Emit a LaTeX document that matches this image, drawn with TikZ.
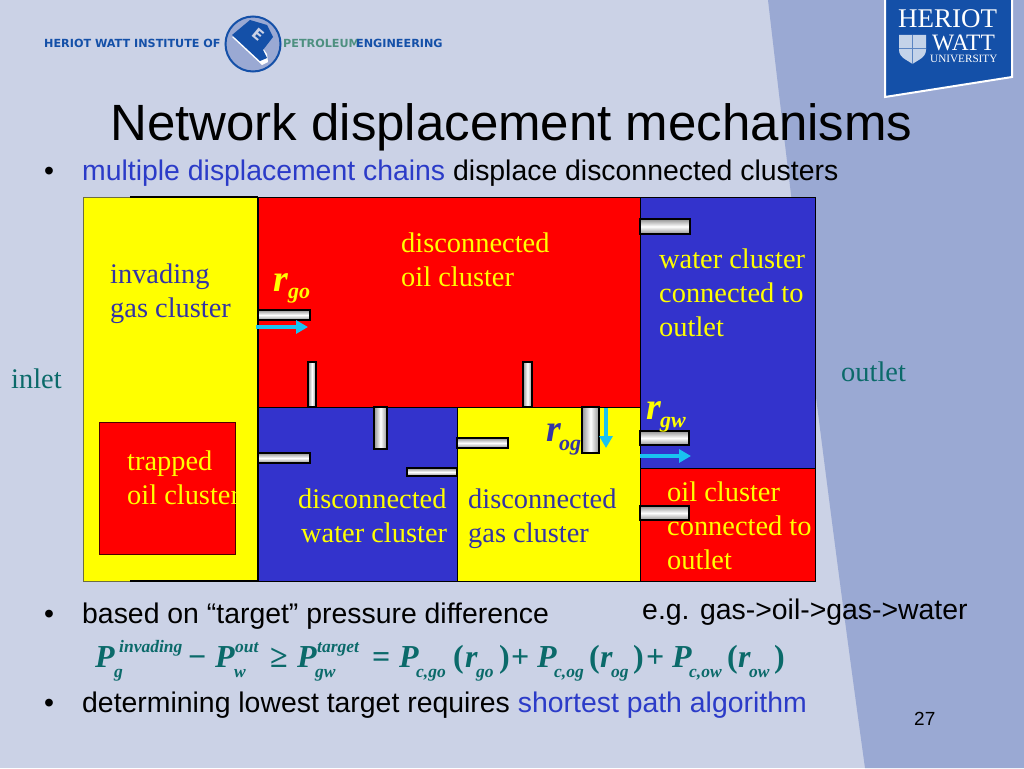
\documentclass[tikz,border=0pt]{standalone}
\usepackage{fontspec}
\setmainfont{Liberation Serif}
\newfontfamily\arial{Liberation Sans}
\newfontfamily\logofont{DejaVu Sans}
\definecolor{bgl}{HTML}{CBD2E6}
\definecolor{bgd}{HTML}{9AA9D3}
\definecolor{hwblue}{HTML}{1450A8}
\definecolor{cellblue}{HTML}{3333CC}
\definecolor{tealt}{HTML}{0B6A6A}
\definecolor{linkb}{HTML}{2B3BC8}
\definecolor{labelb}{HTML}{3333A6}
\definecolor{arrowc}{HTML}{19C3F0}
\definecolor{yel}{HTML}{FFFF00}
\definecolor{logog}{HTML}{4E9080}
\definecolor{edgeg}{HTML}{6E6E40}
\usetikzlibrary{arrows.meta}
\tikzset{
 cell/.style={draw=black,line width=1pt},
 hpore/.style={draw=black,line width=1.3pt,top color=gray!85,bottom color=gray!85,middle color=white},
 vpore/.style={draw=black,line width=1.3pt,left color=gray!85,right color=gray!85,middle color=white},
 flow/.style={draw=arrowc,line width=3.6pt,-{Triangle[length=12pt,width=13pt]}},
 lbl/.style={anchor=base west,inner sep=0,font=\fontsize{28.4}{30}\selectfont,align=left},
 body/.style={anchor=base west,inner sep=0,font=\arial\fontsize{28.4}{30}\selectfont},
 eqm/.style={anchor=base west,inner sep=0,text=tealt,font=\bfseries\itshape\fontsize{32}{32}\selectfont},
 eqs/.style={anchor=base west,inner sep=0,text=tealt,font=\bfseries\itshape\fontsize{17.5}{18}\selectfont},
 rm/.style={anchor=base west,inner sep=0,font=\bfseries\itshape\fontsize{38}{38}\selectfont},
 rs/.style={anchor=base west,inner sep=0,font=\bfseries\itshape\fontsize{22}{22}\selectfont},
 logot/.style={anchor=base west,inner sep=0,font=\logofont\bfseries\fontsize{11.2}{12}\selectfont},
}
\begin{document}
\begin{tikzpicture}[x=1pt,y=-1pt]
\useasboundingbox (0,0) rectangle (1024,768);
% background
\fill[bgl] (0,0) rectangle (1024,768);
\fill[bgd] (768,0) .. controls (790,190) and (825,480) .. (865,768) -- (1024,768) -- (1024,0) -- cycle;
% institute logo
\node[logot,text=hwblue] (inst) at (44,48) {HERIOT WATT INSTITUTE OF};
\draw[hwblue,line width=2pt,fill=bgd] (253,44) circle (27.5);
\fill[white] (232,37) -- (262,65) -- (268,62) -- (267,54) -- (250,30) -- cycle;
\fill[hwblue] (232,35) -- (250,20) -- (267,25) -- (273,37) -- (263,50) -- (267,58) -- (260,61) -- cycle;
\node[inner sep=0,rotate=-40,text=bgl,font=\logofont\bfseries\fontsize{15}{15}\selectfont] (elogo) at (258,35) {E};
\node[logot,text=logog] (pet) at (283,48) {PETROLEUM};
\node[logot,text=hwblue] (eng) at (356,48) {ENGINEERING};
% university badge
\draw[white,line width=2pt,fill=hwblue] (885,-2) -- (1012,-2) -- (1012,77) -- (885,97) -- cycle;
\node[anchor=base west,inner sep=0,text=white,font=\fontsize{27}{27}\selectfont] (hw1) at (898,28) {HERIOT};
\node[anchor=base west,inner sep=0,text=white,font=\fontsize{23.5}{24}\selectfont] (hw2) at (932,51) {WATT};
\node[anchor=base west,inner sep=0,text=white,font=\fontsize{11.2}{12}\selectfont] (hw3) at (930,63) {UNIVERSITY};
\fill[white!75!hwblue] (899,35) -- (926,35) -- (926,50) .. controls (926,58) and (916,61) .. (912.5,64) .. controls (909,61) and (899,58) .. (899,50) -- cycle;
\draw[hwblue!70,line width=.7pt] (912.5,35) -- (912.5,64) (899,48) -- (926,48);
% title
\node[anchor=base west,inner sep=0,font=\arial\fontsize{51}{53}\selectfont] (title) at (110,140) {Network displacement mechanisms};
% bullets
\node[body] (b1) at (44,180) {•};
\node[body] (t1) at (82,180) {\textcolor{linkb}{multiple displacement chains} displace disconnected clusters};
\node[body] (b2) at (44,623) {•};
\node[body] (t2) at (82,623) {based on “target” pressure difference};
\node[body] (eg) at (642,619) {e.g. gas->oil->gas->water};
\node[body] (b3) at (44,712) {•};
\node[body] (t3) at (82,712) {determining lowest target requires \textcolor{linkb}{shortest path algorithm}};
\node[anchor=base west,inner sep=0,font=\arial\fontsize{19}{20}\selectfont] (pg) at (914,725) {27};
% cells
\filldraw[draw=edgeg,line width=1pt,fill=yel] (83,197) rectangle (258,581);
\draw[black,line width=1.2pt] (130,197) -- (258,197) (130,581) -- (258,581) (258,197) -- (258,581);
\filldraw[cell,fill=red] (258,197) rectangle (640,407);
\filldraw[cell,fill=cellblue] (640,197) rectangle (815,468);
\filldraw[cell,fill=red] (640,468) rectangle (815,581);
\filldraw[cell,fill=cellblue] (258,407) rectangle (457,581);
\filldraw[cell,fill=yel] (457,407) rectangle (640,581);
\filldraw[draw=black!70!red,line width=1pt,fill=red] (99,422) rectangle (235,554);
% pores
\shade[hpore] (640,219) rectangle (690,234);
\shade[hpore] (258,310) rectangle (310,320);
\shade[vpore] (308,362) rectangle (316,407);
\shade[vpore] (523,362) rectangle (532,407);
\shade[vpore] (374,407) rectangle (387,449);
\shade[hpore] (258,453) rectangle (310,463);
\shade[hpore] (407,468) rectangle (457,476);
\shade[hpore] (457,438) rectangle (508,448);
\shade[vpore] (582,407) rectangle (599,453);
\shade[hpore] (640,431) rectangle (689,445);
\shade[hpore] (640,506) rectangle (689,520);
% flow arrows
\draw[flow] (256,327) -- (308,327);
\draw[flow] (606,408) -- (606,448);
\draw[flow] (640,456) -- (691,456);
% cell labels
\node[lbl,text=yel] (a1) at (401,252) {disconnected};
\node[lbl,text=yel] (a2) at (401,286) {oil cluster};
\node[lbl,text=labelb] (c1) at (110,283) {invading};
\node[lbl,text=labelb] (c2) at (110,317) {gas cluster};
\node[lbl,text=yel] (d1) at (659,268) {water cluster};
\node[lbl,text=yel] (d2) at (659,302) {connected to};
\node[lbl,text=yel] (d3) at (659,336) {outlet};
\node[lbl,text=yel] (e1) at (127,470) {trapped};
\node[lbl,text=yel] (e2) at (127,504) {oil cluster};
\node[lbl,text=yel] (f1) at (298,508) {disconnected};
\node[lbl,text=yel] (f2) at (301,542) {water cluster};
\node[lbl,text=labelb] (g1) at (468,508) {disconnected};
\node[lbl,text=labelb] (g2) at (468,542) {gas cluster};
\node[lbl,text=yel] (h1) at (667,501) {oil cluster};
\node[lbl,text=yel] (h2) at (667,535) {connected to};
\node[lbl,text=yel] (h3) at (667,569) {outlet};
\node[lbl,text=tealt] (inlet) at (11,388) {inlet};
\node[lbl,text=tealt] (outlet) at (841,381) {outlet};
% radii labels
\node[rm,text=yel] (r1) at (273,291) {r};
\node[rs,text=yel] (r1s) at (288,298) {go};
\node[rm,text=labelb] (r2) at (546,441) {r};
\node[rs,text=labelb] (r2s) at (559,450) {og};
\node[rm,text=yel] (r3) at (646,419) {r};
\node[rs,text=yel] (r3s) at (660,427) {gw};
% equation
\node[eqm] (p1) at (95,667) {P};
\node[eqs] (p1a) at (119,652) {invading};
\node[eqs] (p1b) at (114,677) {g};
\node[eqm] (m1) at (188,667) {\textup{−}};
\node[eqm] (p2) at (215,667) {P};
\node[eqs] (p2a) at (235,652) {out};
\node[eqs] (p2b) at (234,677) {w};
\node[eqm] (ge) at (270,667) {\textup{≥}};
\node[eqm] (p3) at (297,667) {P};
\node[eqs] (p3a) at (317,652) {target};
\node[eqs] (p3b) at (315,677) {gw};
\node[eqm] (eq) at (372,667) {\textup{=}};
\node[eqm] (p4) at (399,667) {P};
\node[eqs] (p4b) at (416,677) {c,go};
\node[eqm] (l1) at (453,667) {\textup{(}};
\node[eqm] (r4) at (465,667) {r};
\node[eqs] (r4b) at (476,677) {go};
\node[eqm] (c1p) at (499,667) {\textup{)}};
\node[eqm] (pl1) at (511,667) {\textup{+}};
\node[eqm] (p5) at (537,667) {P};
\node[eqs] (p5b) at (554,677) {c,og};
\node[eqm] (l2) at (589,667) {\textup{(}};
\node[eqm] (r5) at (600,667) {r};
\node[eqs] (r5b) at (611,677) {og};
\node[eqm] (c2p) at (633,667) {\textup{)}};
\node[eqm] (pl2) at (646,667) {\textup{+}};
\node[eqm] (p6) at (672,667) {P};
\node[eqs] (p6b) at (689,677) {c,ow};
\node[eqm] (l3) at (727,667) {\textup{(}};
\node[eqm] (r6) at (738,667) {r};
\node[eqs] (r6b) at (749,677) {ow};
\node[eqm] (c3p) at (774,667) {\textup{)}};
\end{tikzpicture}
\end{document}
